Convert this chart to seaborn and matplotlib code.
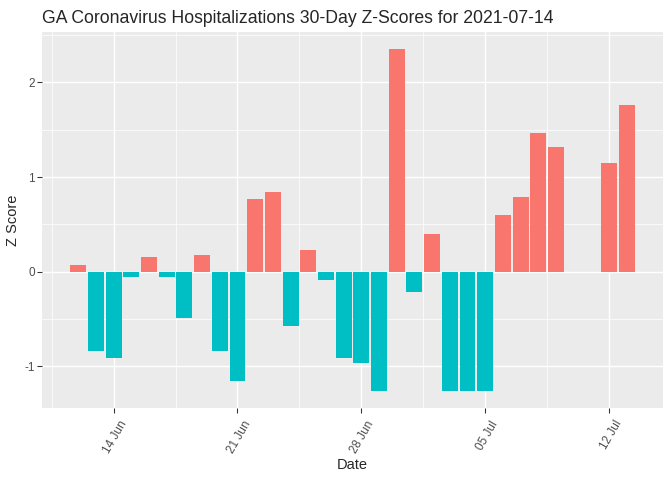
import numpy as np
import pandas as pd
import seaborn as sns
import matplotlib
matplotlib.use("Agg")
import matplotlib.pyplot as plt
import matplotlib.transforms as mtransforms
from matplotlib.ticker import FixedLocator


# data (NaN = no value that day)
dates = pd.date_range("2021-06-12", "2021-07-13", freq="D")
z_scores = [
    0.07, -0.84, -0.91, -0.06, 0.16, -0.06, -0.49, 0.18,
    -0.84, -1.15, 0.77, 0.84, -0.57, 0.23, -0.09, -0.91,
    -0.96, -1.26, 2.35, -0.21, 0.40, -1.26, -1.26, -1.26,
    0.60, 0.79, 1.46, 1.32, np.nan, np.nan, 1.15, 1.76,
]
tick_dates = ["2021-06-14", "2021-06-21", "2021-06-28", "2021-07-05", "2021-07-12"]
title = "GA Coronavirus Hospitalizations 30-Day Z-Scores for 2021-07-14"


def build_frame():
    df = pd.DataFrame({"Date": dates, "Z": z_scores})
    df["label"] = df["Date"].dt.strftime("%Y-%m-%d")
    df["sign"] = np.where(df["Z"] > 0, "pos", "neg")
    return df


def plotting(df):
    sns.set_theme(style="darkgrid", rc={
        "axes.facecolor": "#EBEBEB",
        "grid.color": "white",
    })
    plt.rcParams["font.family"] = ["Liberation Sans", "DejaVu Sans"]
    plt.rcParams["axes.unicode_minus"] = False

    fig, ax = plt.subplots(figsize=(7, 5), dpi=96)
    fig.subplots_adjust(left=0.0625, right=0.9866, top=0.933, bottom=0.15)

    order = list(df["label"])
    sns.barplot(data=df, x="label", y="Z", hue="sign", order=order,
                palette={"pos": "#F8766D", "neg": "#00BFC4"},
                dodge=False, width=0.9, errorbar=None, legend=False,
                saturation=1, linewidth=0, edgecolor="none", ax=ax)

    # x positions: day index from first date
    idx = [order.index(d) for d in tick_dates]
    ax.xaxis.set_major_locator(FixedLocator(idx))
    ax.xaxis.set_minor_locator(FixedLocator([i - 3.5 for i in idx]))
    ax.set_xticklabels([pd.Timestamp(d).strftime("%d %b") for d in tick_dates],
                       rotation=60, ha="right", va="top",
                       rotation_mode="anchor")

    span = len(order) - 0.1
    ax.set_xlim(-0.45 - 0.05 * span, len(order) - 0.55 + 0.05 * span)

    vals = df["Z"].dropna()
    pad = 0.05 * (vals.max() - vals.min())
    ax.set_ylim(vals.min() - pad, vals.max() + pad)
    ax.yaxis.set_major_locator(FixedLocator([-1, 0, 1, 2]))
    ax.yaxis.set_minor_locator(FixedLocator([-0.5, 0.5, 1.5, 2.5]))

    ax.grid(which="major", color="white", linewidth=1.1)
    ax.grid(which="minor", color="white", linewidth=0.55)
    ax.set_axisbelow(True)
    for s in ax.spines.values():
        s.set_visible(False)

    ax.tick_params(axis="both", which="major", length=3.5, width=0.8,
                   color="#333333", labelcolor="#4D4D4D", labelsize=8.8,
                   bottom=True, left=True, pad=2)
    ax.tick_params(axis="x", which="major", pad=3)
    ax.tick_params(which="minor", length=0)

    # nudge labels right like ggplot's vjust on rotated text
    # (after tick_params, which resets label transforms)
    shift = mtransforms.ScaledTranslation(5 / 96, -2 / 96, fig.dpi_scale_trans)
    for lab in ax.get_xticklabels():
        lab.set_transform(lab.get_transform() + shift)

    ax.set_xlabel("Date", fontsize=11, labelpad=2)
    ax.set_ylabel("Z Score", fontsize=11, labelpad=3)
    ax.set_title(title, fontsize=13.2, loc="left", pad=7)

    fig.savefig("out.png", dpi=96)


if __name__ == "__main__":
    data = build_frame()
    plotting(data)
